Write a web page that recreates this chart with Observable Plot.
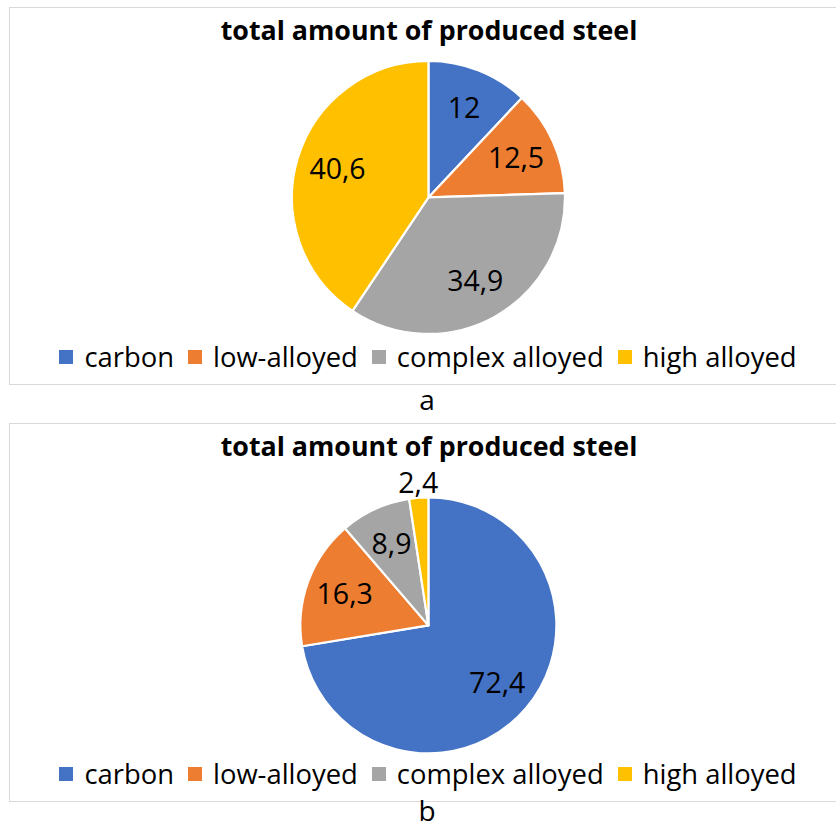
<!DOCTYPE html>
<html><head><meta charset="utf-8">
<script src="https://cdn.jsdelivr.net/npm/d3@7"></script>
<script src="https://cdn.jsdelivr.net/npm/@observablehq/plot@0.6"></script>
<style>
body{margin:0;background:#fff;font-family:"Open Sans",sans-serif;width:836px;height:830px;overflow:hidden;position:relative;color:#000}
.panel{position:absolute;left:9px;width:840px;border:1.5px solid #d9d9d9;box-sizing:border-box;}
.title{position:absolute;left:0;width:858px;text-align:center;font-weight:700;font-size:26.8px;line-height:26.8px;white-space:nowrap}
.legend{position:absolute;left:0;width:856px;text-align:center;font-size:27.4px;line-height:27.4px;white-space:nowrap}
.legend .sw{display:inline-block;width:14px;height:14px;margin:0 11px 3px 0;vertical-align:baseline}
.legend .item{margin-right:14px}
.legend .item:last-child{margin-right:0}
.cap{position:absolute;left:0;width:854px;text-align:center;font-size:28px;line-height:20px}
.pie{position:absolute}
</style></head>
<body>
<script>
const categories = ["carbon", "low-alloyed", "complex alloyed", "high alloyed"];
const valuesA = [12, 12.5, 34.9, 40.6];
const valuesB = [72.4, 16.3, 8.9, 2.4];
const colors = ["#4472C4", "#ED7D31", "#A5A5A5", "#FFC000"];
const titleText = "total amount of produced steel";
const captions = ["a", "b"];

function makePie(values, radius) {
  const total = d3.sum(values);
  const arcs = d3.pie().sort(null).value(d => d)(values);
  const labels = arcs.map((a, i) => {
    const mid = (a.startAngle + a.endAngle) / 2;
    const f = a.value / total < 0.05 ? 1.11 : 0.7;
    return {x: Math.sin(mid) * f, y: Math.cos(mid) * f, text: String(a.value).replace(".", ",")};
  });
  const ext = 1.3;
  const size = 2 * ext * radius;
  const pieMark = (index, scales) => {
    const cx = scales.x(0), cy = scales.y(0), r = scales.x(1) - scales.x(0);
    const g = d3.create("svg:g").attr("transform", `translate(${cx},${cy})`);
    const arc = d3.arc().innerRadius(0).outerRadius(r);
    g.selectAll("path").data(arcs).join("path")
      .attr("d", arc)
      .attr("fill", (d, i) => colors[i])
      .attr("stroke", "#fff")
      .attr("stroke-width", 2.2)
      .attr("stroke-linejoin", "round");
    return g.node();
  };
  return Plot.plot({
    width: size, height: size, margin: 0,
    x: {domain: [-ext, ext], axis: null},
    y: {domain: [-ext, ext], axis: null},
    style: {background: "transparent", overflow: "visible"},
    marks: [
      pieMark,
      Plot.text(labels, {x: "x", y: "y", text: "text", fontSize: 28.5, fill: "#000", fontFamily: "Open Sans"})
    ]
  });
}

function baselineTop(base, fs, lh) {
  return base - ((lh - fs * 1.362) / 2 + fs * 1.069);
}

function panel(top, height, values, radius, cx, cy, titleBase, legendBase, capBase, cap) {
  const p = document.createElement("div");
  p.className = "panel";
  p.style.top = top + "px";
  p.style.height = height + "px";
  document.body.appendChild(p);

  const svg = makePie(values, radius);
  const size = 2 * 1.3 * radius;
  svg.classList.add("pie");
  svg.style.left = (cx - size / 2) + "px";
  svg.style.top = (cy - size / 2) + "px";
  document.body.appendChild(svg);

  const t = document.createElement("div");
  t.className = "title";
  t.textContent = titleText;
  t.style.top = baselineTop(titleBase, 26.8, 26.8) + "px";
  document.body.appendChild(t);

  const lg = document.createElement("div");
  lg.className = "legend";
  lg.style.top = baselineTop(legendBase, 27.4, 27.4) + "px";
  categories.forEach((c, i) => {
    const it = document.createElement("span");
    it.className = "item";
    const sw = document.createElement("span");
    sw.className = "sw";
    sw.style.background = colors[i];
    it.appendChild(sw);
    it.appendChild(document.createTextNode(c));
    lg.appendChild(it);
  });
  document.body.appendChild(lg);

  const c = document.createElement("div");
  c.className = "cap";
  c.textContent = cap;
  c.style.top = baselineTop(capBase, 28, 20) + "px";
  document.body.appendChild(c);
}

panel(7, 378, valuesA, 136.5, 428.5, 197, 41, 367, 410, captions[0]);
panel(423, 379, valuesB, 128, 428, 625, 457, 784, 821, captions[1]);
</script>
</body></html>
